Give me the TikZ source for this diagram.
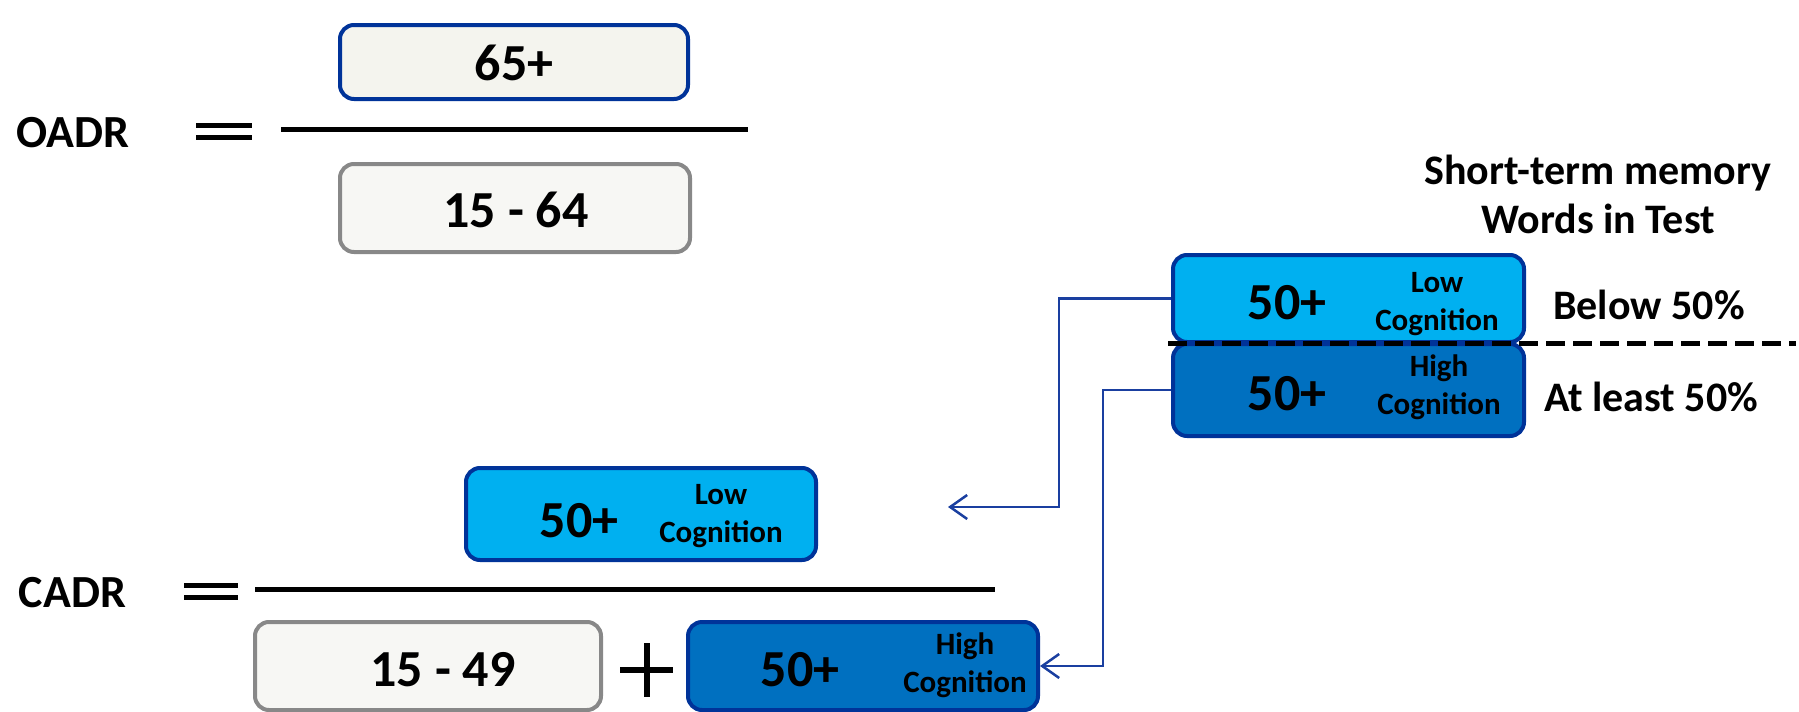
\documentclass[tikz,border=0pt]{standalone}
\usepackage{fontspec}
\setmainfont{Carlito}
\usetikzlibrary{arrows.meta}
\definecolor{bord}{HTML}{003399}
\definecolor{lightb}{HTML}{00B0F0}
\definecolor{darkb}{HTML}{0070C0}
\definecolor{grayb}{HTML}{888888}
\definecolor{paleA}{HTML}{F4F4EE}
\definecolor{paleB}{HTML}{F7F7F4}
\definecolor{conncol}{HTML}{1A3FA0}
\begin{document}
\begin{tikzpicture}[x=1pt,y=-1pt,
  box/.style={draw, rounded corners=14pt, line width=4pt, inner sep=0pt},
  bigtxt/.style={inner sep=0pt, font=\fontsize{52}{62}\selectfont\bfseries},
  lbltxt/.style={inner sep=0pt, font=\fontsize{46}{55}\selectfont\bfseries},
  hdtxt/.style={inner sep=0pt, align=center, font=\fontsize{42}{49}\selectfont\bfseries},
  smtxt/.style={inner sep=0pt, align=center, font=\fontsize{31}{38}\selectfont\bfseries},
  barline/.style={line width=5pt, black},
  eqline/.style={line width=5pt, black},
  conn/.style={draw=conncol, line width=2.5pt, -{Straight Barb[length=17pt,width=24pt,line width=2.5pt]}}
]
\useasboundingbox (0,0) rectangle (1799,712);

% ---------- OADR ----------
\node[lbltxt] (oadr) at (73,133) {OADR};
\draw[eqline] (196,125) -- (252,125);
\draw[eqline] (196,137) -- (252,137);
\draw[barline] (281,129) -- (748,129);
\node[box, draw=bord, fill=paleA, minimum width=348pt, minimum height=74pt] (b65) at (514,62) {};
\node[bigtxt] (t65) at (514,63) {65+};
\node[box, draw=grayb, fill=paleB, minimum width=350pt, minimum height=88pt] (b1564) at (515,208) {};
\node[bigtxt] (t1564) at (516,210) {15 - 64};

% ---------- right group ----------
\node[hdtxt] (hd) at (1598,194) {Short-term memory\\Words in Test};
\node[box, draw=bord, fill=lightb, minimum width=351pt, minimum height=87pt] (lt) at (1348.5,298.5) {};
\node[box, draw=bord, fill=darkb, minimum width=351pt, minimum height=92pt] (ht) at (1348.5,390) {};
\node[bigtxt] (lt50) at (1287,303) {50+};
\node[smtxt] (ltc) at (1437,304) {Low\\Cognition};
\node[bigtxt] (ht50) at (1287,394) {50+};
\node[smtxt] (htc) at (1439,387) {High\\Cognition};
\draw[line width=5pt, black, dash pattern=on 19pt off 8pt] (1168,343) -- (1796,343);
\node[hdtxt] (below) at (1649,305) {Below 50\%};
\node[hdtxt] (atleast) at (1651,397) {At least 50\%};

% ---------- CADR ----------
\node[lbltxt] (cadr) at (72.5,593) {CADR};
\draw[eqline] (184,585) -- (238,585);
\draw[eqline] (184,597) -- (238,597);
\draw[barline] (255,589) -- (995,589);
\node[box, draw=bord, fill=lightb, minimum width=350pt, minimum height=92pt] (lb) at (641,514) {};
\node[bigtxt] (lb50) at (579,521) {50+};
\node[smtxt] (lbc) at (721,516) {Low\\Cognition};
\node[box, draw=grayb, fill=paleB, minimum width=346pt, minimum height=88pt] (b1549) at (428,666) {};
\node[bigtxt] (t1549) at (443,670) {15 - 49};
\draw[line width=6pt] (620,670) -- (673,670);
\draw[line width=6pt] (646.5,643) -- (646.5,697);
\node[box, draw=bord, fill=darkb, minimum width=350pt, minimum height=88pt] (hb) at (863,666) {};
\node[bigtxt] (hb50) at (800,670) {50+};
\node[smtxt] (hbc) at (965,665) {High\\Cognition};

% ---------- connectors ----------
\coordinate (a1) at (948,507);
\draw[conn] (lt.west) -- ++(-112,0) |- (a1);
\draw[conn] (ht.west) -- ++(-68,0) |- (hb.east);
\end{tikzpicture}
\end{document}
